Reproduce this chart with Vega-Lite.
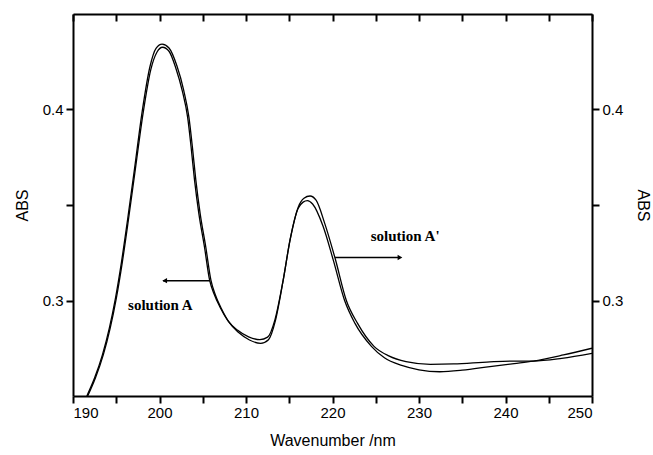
{
  "$schema": "https://vega.github.io/schema/vega-lite/v6.json",
  "autosize": "none",
  "width": 519,
  "height": 382,
  "padding": {"left": 73, "top": 14, "right": 61, "bottom": 59},
  "background": "white",
  "config": {
    "view": {"stroke": null},
    "font": "Liberation Sans",
    "axis": {"grid": false, "domainColor": "black", "domainWidth": 2, "tickColor": "black", "tickWidth": 2, "ticks": true,
      "labelFont": "Liberation Sans", "labelFontSize": 15, "labelColor": "black",
      "titleFont": "Liberation Sans", "titleFontSize": 16, "titleFontWeight": "normal", "titleColor": "black"}
  },
  "datasets": {
    "curves": [
      {"s": "A", "x": 191.7, "y": 0.25}, {"s": "A", "x": 192.6, "y": 0.2595}, {"s": "A", "x": 193.5, "y": 0.2715},
      {"s": "A", "x": 194.3, "y": 0.2855}, {"s": "A", "x": 195.0, "y": 0.301}, {"s": "A", "x": 195.7, "y": 0.32},
      {"s": "A", "x": 196.4, "y": 0.342}, {"s": "A", "x": 197.2, "y": 0.3685}, {"s": "A", "x": 198.1, "y": 0.398},
      {"s": "A", "x": 199.0, "y": 0.421}, {"s": "A", "x": 199.7, "y": 0.43}, {"s": "A", "x": 200.35, "y": 0.4326},
      {"s": "A", "x": 201.1, "y": 0.4305}, {"s": "A", "x": 201.9, "y": 0.4215}, {"s": "A", "x": 202.65, "y": 0.4095},
      {"s": "A", "x": 203.25, "y": 0.396}, {"s": "A", "x": 203.65, "y": 0.3805}, {"s": "A", "x": 204.05, "y": 0.363},
      {"s": "A", "x": 204.55, "y": 0.3455}, {"s": "A", "x": 205.2, "y": 0.328}, {"s": "A", "x": 205.8, "y": 0.3105},
      {"s": "A", "x": 206.3, "y": 0.3035}, {"s": "A", "x": 207.0, "y": 0.2965}, {"s": "A", "x": 207.9, "y": 0.2895},
      {"s": "A", "x": 209.0, "y": 0.2845}, {"s": "A", "x": 210.3, "y": 0.281}, {"s": "A", "x": 211.6, "y": 0.2795},
      {"s": "A", "x": 212.5, "y": 0.2808}, {"s": "A", "x": 213.35, "y": 0.29}, {"s": "A", "x": 214.3, "y": 0.3107},
      {"s": "A", "x": 215.1, "y": 0.3317}, {"s": "A", "x": 216.0, "y": 0.348}, {"s": "A", "x": 216.6, "y": 0.3515},
      {"s": "A", "x": 217.1, "y": 0.3523}, {"s": "A", "x": 217.7, "y": 0.3505}, {"s": "A", "x": 218.9, "y": 0.339},
      {"s": "A", "x": 220.1, "y": 0.321}, {"s": "A", "x": 221.4, "y": 0.3}, {"s": "A", "x": 222.6, "y": 0.288},
      {"s": "A", "x": 224.5, "y": 0.276}, {"s": "A", "x": 226.0, "y": 0.27}, {"s": "A", "x": 228.0, "y": 0.266},
      {"s": "A", "x": 230.0, "y": 0.2637}, {"s": "A", "x": 232.4, "y": 0.2627}, {"s": "A", "x": 235.0, "y": 0.2635},
      {"s": "A", "x": 238.2, "y": 0.2654}, {"s": "A", "x": 241.0, "y": 0.267}, {"s": "A", "x": 243.2, "y": 0.2683},
      {"s": "A", "x": 246.7, "y": 0.2715}, {"s": "A", "x": 250.0, "y": 0.275},
      {"s": "A'", "x": 191.6, "y": 0.25}, {"s": "A'", "x": 192.5, "y": 0.2595}, {"s": "A'", "x": 193.4, "y": 0.2715},
      {"s": "A'", "x": 194.2, "y": 0.2855}, {"s": "A'", "x": 194.9, "y": 0.301}, {"s": "A'", "x": 195.6, "y": 0.32},
      {"s": "A'", "x": 196.3, "y": 0.342}, {"s": "A'", "x": 197.1, "y": 0.3685}, {"s": "A'", "x": 198.0, "y": 0.399},
      {"s": "A'", "x": 198.9, "y": 0.4225}, {"s": "A'", "x": 199.6, "y": 0.432}, {"s": "A'", "x": 200.3, "y": 0.4342},
      {"s": "A'", "x": 201.1, "y": 0.4322}, {"s": "A'", "x": 202.0, "y": 0.423}, {"s": "A'", "x": 202.8, "y": 0.41},
      {"s": "A'", "x": 203.4, "y": 0.396}, {"s": "A'", "x": 203.8, "y": 0.3805}, {"s": "A'", "x": 204.2, "y": 0.363},
      {"s": "A'", "x": 204.7, "y": 0.3455}, {"s": "A'", "x": 205.35, "y": 0.328}, {"s": "A'", "x": 205.95, "y": 0.3105},
      {"s": "A'", "x": 206.45, "y": 0.303}, {"s": "A'", "x": 207.15, "y": 0.2958}, {"s": "A'", "x": 208.05, "y": 0.2885},
      {"s": "A'", "x": 209.15, "y": 0.2832}, {"s": "A'", "x": 210.4, "y": 0.2793}, {"s": "A'", "x": 211.7, "y": 0.2776},
      {"s": "A'", "x": 212.6, "y": 0.2795}, {"s": "A'", "x": 213.4, "y": 0.2895}, {"s": "A'", "x": 214.3, "y": 0.3107},
      {"s": "A'", "x": 215.1, "y": 0.332}, {"s": "A'", "x": 216.05, "y": 0.349}, {"s": "A'", "x": 216.7, "y": 0.3535},
      {"s": "A'", "x": 217.4, "y": 0.3547}, {"s": "A'", "x": 218.1, "y": 0.3525}, {"s": "A'", "x": 219.1, "y": 0.3404},
      {"s": "A'", "x": 220.3, "y": 0.3221}, {"s": "A'", "x": 221.6, "y": 0.3}, {"s": "A'", "x": 222.9, "y": 0.288},
      {"s": "A'", "x": 224.8, "y": 0.276}, {"s": "A'", "x": 226.5, "y": 0.271}, {"s": "A'", "x": 228.5, "y": 0.268},
      {"s": "A'", "x": 231.3, "y": 0.2666}, {"s": "A'", "x": 234.0, "y": 0.2668}, {"s": "A'", "x": 238.2, "y": 0.2679},
      {"s": "A'", "x": 241.0, "y": 0.2683}, {"s": "A'", "x": 243.2, "y": 0.2683}, {"s": "A'", "x": 246.5, "y": 0.2697},
      {"s": "A'", "x": 250.0, "y": 0.2723}
    ],
    "labels": [
      {"x": 200.1, "y": 0.2974, "text": "solution A"},
      {"x": 228.4, "y": 0.3338, "text": "solution A'"}
    ],
    "arrows": [
      {"x": 200.4, "x2": 205.85, "y": 0.3104},
      {"x": 220.3, "x2": 227.6, "y": 0.3225}
    ],
    "heads": [
      {"x": 200.6, "y": 0.3104, "shape": "triangle-left"},
      {"x": 227.8, "y": 0.3225, "shape": "triangle-right"}
    ]
  },
  "layer": [
    {
      "data": {"name": "curves"},
      "mark": {"type": "line", "interpolate": "monotone", "stroke": "black", "strokeWidth": 1.3, "clip": true},
      "encoding": {
        "x": {"field": "x", "type": "quantitative", "scale": {"domain": [190, 250], "nice": false, "zero": false},
          "axis": {"orient": "bottom", "values": [190,195,200,205,210,215,220,225,230,235,240,245,250],
            "labelExpr": "datum.value % 10 == 0 ? datum.label : ''", "title": "Wavenumber /nm",
            "tickSize": 7, "labelPadding": 2, "titlePadding": 12}},
        "y": {"field": "y", "type": "quantitative", "scale": {"domain": [0.25, 0.45], "nice": false, "zero": false},
          "axis": {"orient": "left", "values": [0.3, 0.35, 0.4],
            "labelExpr": "abs(datum.value - 0.35) < 0.001 ? '' : format(datum.value, '.1f')", "title": "ABS",
            "tickSize": 7, "labelPadding": 3, "titlePadding": 12}},
        "detail": {"field": "s", "type": "nominal"}
      }
    },
    {
      "data": {"name": "curves"},
      "mark": {"type": "point", "opacity": 0},
      "encoding": {
        "x": {"field": "x", "type": "quantitative",
          "axis": {"orient": "top", "values": [190,195,200,205,210,215,220,225,230,235,240,245,250], "labels": false, "title": null,
            "tickSize": -7}},
        "y": {"field": "y", "type": "quantitative",
          "axis": {"orient": "right", "values": [0.3, 0.35, 0.4],
            "labelExpr": "abs(datum.value - 0.35) < 0.001 ? '' : format(datum.value, '.1f')", "title": "ABS", "titleAngle": 90,
            "tickSize": 7, "labelPadding": 3, "titlePadding": 12}}
      }
    },
    {
      "data": {"name": "arrows"},
      "mark": {"type": "rule", "stroke": "black", "strokeWidth": 1.5},
      "encoding": {
        "x": {"field": "x", "type": "quantitative", "axis": null},
        "x2": {"field": "x2"},
        "y": {"field": "y", "type": "quantitative", "axis": null}
      }
    },
    {
      "data": {"name": "heads"},
      "mark": {"type": "point", "filled": true, "color": "black", "size": 30, "opacity": 1},
      "encoding": {
        "x": {"field": "x", "type": "quantitative", "axis": null},
        "y": {"field": "y", "type": "quantitative", "axis": null},
        "shape": {"field": "shape", "type": "nominal", "scale": null}
      }
    },
    {
      "data": {"name": "labels"},
      "mark": {"type": "text", "font": "Liberation Serif", "fontWeight": "bold", "fontSize": 15, "color": "black", "baseline": "middle", "align": "center"},
      "encoding": {
        "x": {"field": "x", "type": "quantitative", "axis": null},
        "y": {"field": "y", "type": "quantitative", "axis": null},
        "text": {"field": "text"}
      }
    }
  ],
  "resolve": {"axis": {"x": "independent", "y": "independent"}}
}
